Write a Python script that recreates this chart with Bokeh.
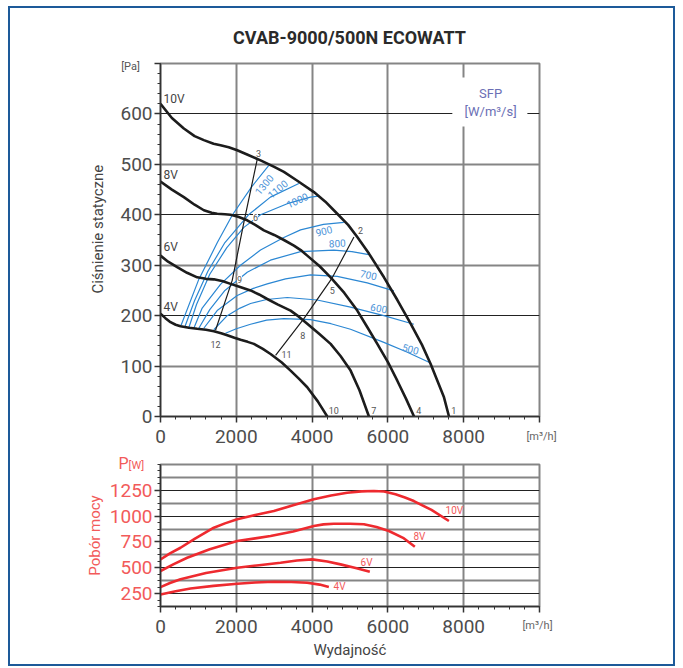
from bokeh.plotting import figure
from bokeh.models import Range1d, FixedTicker, Grid, Label, BoxAnnotation
from bokeh.layouts import column
from bokeh.embed import file_html
from bokeh.resources import INLINE

FONT = "Roboto"

# ---------------- data: static pressure curves [m3/h] -> [Pa] ----------------
Q_10V = [0, 300, 616, 900, 1144, 1400, 1584, 1800, 2024, 2300, 2640, 3000, 3256, 3600, 4048, 4350,
         4664, 4950, 5192, 5500, 5896, 6250, 6600, 6900, 7128, 7300, 7480, 7612]
P_10V = [620, 592, 571, 556, 548, 541, 538, 534, 528, 519, 508, 495, 485, 468, 445, 426,
         402, 380, 356, 323, 276, 231, 184, 142, 104, 72, 38, 0]
Q_8V = [0, 300, 616, 900, 1144, 1350, 1496, 1700, 1848, 2050, 2288, 2500, 2728, 3000, 3256, 3520,
        3700, 3872, 4200, 4488, 4850, 5192, 5450, 5720, 6000, 6248, 6480, 6690]
P_8V = [466, 450, 435, 420, 409, 404, 402, 401, 400, 396, 389, 380, 369, 360, 350, 339,
        330, 319, 298, 276, 245, 210, 178, 144, 108, 71, 35, 0]
Q_6V = [0, 200, 440, 700, 968, 1200, 1408, 1650, 1848, 2100, 2376, 2600, 2816, 3100, 3432, 3650,
        3872, 4200, 4488, 4750, 5016, 5250, 5500]
P_6V = [319, 307, 296, 285, 276, 273, 272, 268, 263, 257, 250, 242, 233, 222, 210, 198,
        184, 163, 144, 120, 91, 52, 0]
Q_4V = [0, 130, 264, 400, 528, 750, 968, 1200, 1408, 1600, 1760, 1950, 2112, 2300, 2464, 2700,
        2904, 3200, 3432, 3650, 3872, 4150, 4400]
P_4V = [204, 195, 187, 182, 179, 176, 174, 172, 169, 165, 161, 156, 152, 148, 144, 134,
        124, 107, 91, 75, 58, 30, 0]

# system lines
SYS_A_Q = [1452, 1892, 2200, 2552]
SYS_A_P = [171, 270, 385, 510]
SYS_B_Q = [3036, 3783, 4531, 5104]
SYS_B_P = [121, 194, 275, 356]

# SFP iso-curves [W/m3/s]
SFP_1300_Q = [528, 1000, 1500, 1900, 2400, 2858]
SFP_1300_P = [178, 270, 345, 400, 455, 498]
SFP_1100_Q = [633, 900, 1250, 1700, 2322, 2900, 3650]
SFP_1100_P = [176, 230, 288, 345, 400, 435, 462]
SFP_1000_Q = [747, 950, 1300, 1750, 2200, 2639, 3343, 3959, 4170]
SFP_1000_P = [176, 222, 282, 335, 375, 400, 422, 435, 437]
SFP_900_Q = [879, 1100, 1583, 2111, 2639, 3254, 3695, 4300, 4838]
SFP_900_P = [175, 215, 262, 300, 330, 355, 370, 381, 385]
SFP_800_Q = [1011, 1300, 1700, 2288, 2900, 3695, 4574, 5050, 5497]
SFP_800_P = [175, 212, 250, 286, 310, 327, 330, 327, 321]
SFP_700_Q = [1143, 1496, 2024, 2450, 2816, 3300, 3959, 4663, 5455, 6157]
SFP_700_P = [175, 210, 240, 254, 263, 273, 281, 278, 265, 249]
SFP_600_Q = [1407, 1760, 2100, 2375, 2800, 3344, 4135, 5014, 5893, 6685]
SFP_600_P = [172, 200, 215, 224, 232, 236, 231, 217, 200, 183]
SFP_500_Q = [1715, 2000, 2375, 2800, 3254, 3959, 4500, 5014, 5893, 6500, 7126]
SFP_500_P = [165, 174, 183, 191, 194, 192, 184, 173, 147, 128, 106]

# ---------------- data: power consumption [m3/h] -> [W] ----------------
WQ_10V = [0, 250, 528, 900, 1407, 1700, 2024, 2500, 2990, 3500, 4046, 4500, 4926, 5300, 5630,
          5900, 6200, 6450, 6685, 7150, 7610]
W_10V = [581, 640, 694, 780, 888, 930, 969, 1010, 1049, 1105, 1163, 1200, 1227, 1240, 1243,
         1238, 1211, 1180, 1146, 1060, 953]
WQ_8V = [0, 350, 704, 1300, 2024, 2500, 2903, 3500, 4046, 4300, 4574, 5000, 5366, 5700, 6026, 6400, 6711]
W_8V = [468, 535, 597, 680, 759, 785, 807, 852, 904, 920, 927, 927, 921, 895, 856, 790, 703]
WQ_6V = [0, 250, 528, 1200, 2024, 2600, 3167, 3600, 4002, 4400, 4750, 5150, 5523]
W_6V = [313, 352, 388, 450, 500, 525, 548, 570, 581, 560, 533, 498, 461]
WQ_4V = [0, 400, 792, 1400, 2024, 2500, 2990, 3450, 3870, 4200, 4442]
W_4V = [242, 272, 300, 325, 345, 357, 364, 362, 355, 337, 313]

X_TICKS = [0, 2000, 4000, 6000, 8000, 10000]
P_TICKS = [0, 100, 200, 300, 400, 500, 600, 700]
W_TICKS = [250, 500, 750, 1000, 1250]

AXIS_TXT = "#4d4d4d"
RED = "#ee2a2f"
RED_TXT = "#f25a5a"
BLUE = "#2b87d3"
BLUE_TXT = "#4c93d8"
BLACK = "#1c1c1c"
GREY = "#858585"


def lab(p, x, y, text, size, color, align="center", baseline="middle", angle=0, bg=None, bold=False):
    kw = dict(x=x, y=y, text=text, text_font=FONT, text_font_size=f"{size}px",
              text_color=color, text_align=align, text_baseline=baseline,
              angle=angle, angle_units="deg",
              text_font_style="bold" if bold else "normal")
    if bg:
        kw["background_fill_color"] = bg
    p.add_layout(Label(**kw))


def style_axes(p):
    for ax in (p.xaxis[0], p.yaxis[0]):
        ax.axis_line_color = "#333333"
        ax.axis_line_width = 1.5
        ax.major_tick_line_color = "#333333"
        ax.major_tick_line_width = 1.5
        ax.minor_tick_line_color = "#333333"
        ax.major_tick_in = 0
        ax.major_tick_out = 6
        ax.minor_tick_in = 0
        ax.minor_tick_out = 3
        ax.major_label_text_font = FONT
        ax.major_label_text_font_size = "19px"
        ax.major_label_text_color = AXIS_TXT
        ax.axis_label_text_font = FONT
        ax.axis_label_text_font_style = "normal"
    p.xaxis[0].major_label_standoff = 7
    p.yaxis[0].major_label_standoff = 2
    p.outline_line_color = GREY
    p.outline_line_width = 2
    p.background_fill_color = "white"
    p.border_fill_color = "white"


# ================= top chart =================
top = figure(width=663, height=446, x_range=Range1d(0, 10000), y_range=Range1d(0, 700),
             output_backend="svg", toolbar_location=None, title=None,
             min_border_left=150, min_border_right=134, min_border_top=55, min_border_bottom=38)
style_axes(top)
top.xaxis[0].ticker = FixedTicker(ticks=X_TICKS, minor_ticks=list(range(0, 10001, 400)))
top.xaxis[0].major_label_overrides = {10000: ""}
top.yaxis[0].ticker = FixedTicker(ticks=P_TICKS, minor_ticks=list(range(0, 701, 20)))
top.yaxis[0].major_label_overrides = {700: ""}
top.xgrid[0].ticker = FixedTicker(ticks=[2000, 4000, 6000, 8000])
top.xgrid[0].grid_line_color = GREY
top.xgrid[0].grid_line_width = 2
top.ygrid[0].ticker = FixedTicker(ticks=[100, 300, 500])
top.ygrid[0].grid_line_color = GREY
top.ygrid[0].grid_line_width = 2
top.add_layout(Grid(dimension=1, ticker=FixedTicker(ticks=[200, 400, 600]),
                    grid_line_color="#222222", grid_line_width=1))

top.add_layout(BoxAnnotation(left=7700, right=9680, bottom=575, top=672,
                             fill_color="white", fill_alpha=1, line_alpha=0))
lab(top, 8709, 641, "SFP", 13, "#6b6fb5")
lab(top, 8709, 604, "[W/m³/s]", 13, "#6b6fb5")

for q, pv in [(SFP_1300_Q, SFP_1300_P), (SFP_1100_Q, SFP_1100_P), (SFP_1000_Q, SFP_1000_P),
              (SFP_900_Q, SFP_900_P), (SFP_800_Q, SFP_800_P), (SFP_700_Q, SFP_700_P),
              (SFP_600_Q, SFP_600_P), (SFP_500_Q, SFP_500_P)]:
    top.line(q, pv, line_color=BLUE, line_width=1.2)

top.line(SYS_A_Q, SYS_A_P, line_color=BLACK, line_width=1.2)
top.line(SYS_B_Q, SYS_B_P, line_color=BLACK, line_width=1.2)

for q, pv in [(Q_10V, P_10V), (Q_8V, P_8V), (Q_6V, P_6V), (Q_4V, P_4V)]:
    top.line(q, pv, line_color=BLACK, line_width=2.6)

for x, y, t, a in [(2731, 460, "1300", 50), (3088, 451, "1100", 40), (3607, 429, "1000", 25),
                   (4310, 368, "900", 14), (4663, 344, "800", 3), (5489, 281, "700", -12),
                   (5761, 215, "600", -10), (6598, 134, "500", -15)]:
    lab(top, x, y, t, 10, BLUE_TXT, angle=a)

for x, y, t, bg in [(2586, 522, "3", None), (2507, 395, "6", "white"), (2085, 272, "9", "white"),
                    (1451, 143, "12", None), (5278, 369, "2", None), (4531, 250, "5", None),
                    (3755, 161, "8", None), (3325, 123, "11", None), (7740, 12, "1", None),
                    (6817, 12, "4", None), (5629, 12, "7", None), (4573, 12, "10", None)]:
    lab(top, x, y, t, 9, "#555555", bg=bg)

for y, t in [(630, "10V"), (478, "8V"), (337, "6V"), (218, "4V")]:
    lab(top, 79, y, t, 12, "#444444", align="left")

# ================= lower chart =================
low = figure(width=663, height=210, x_range=Range1d(0, 10000), y_range=Range1d(125, 1500),
             output_backend="svg", toolbar_location=None, title=None,
             min_border_left=150, min_border_right=134, min_border_top=10, min_border_bottom=58)
style_axes(low)
low.xaxis[0].ticker = FixedTicker(ticks=X_TICKS, minor_ticks=list(range(0, 10001, 400)))
low.xaxis[0].major_label_overrides = {10000: ""}
low.xaxis[0].axis_label = "Wydajność"
low.xaxis[0].axis_label_text_font_size = "15px"
low.xaxis[0].axis_label_text_color = "#444444"
low.xaxis[0].axis_label_standoff = 5
low.yaxis[0].ticker = FixedTicker(ticks=W_TICKS, minor_ticks=[125 + 62.5 * i for i in range(23)])
low.yaxis[0].major_label_text_color = RED_TXT
low.yaxis[0].axis_label = "Pobór mocy"
low.yaxis[0].axis_label_text_font_size = "15px"
low.yaxis[0].axis_label_text_color = RED_TXT
low.yaxis[0].axis_label_standoff = 3
low.xgrid[0].ticker = FixedTicker(ticks=[2000, 4000, 6000, 8000])
low.xgrid[0].grid_line_color = GREY
low.xgrid[0].grid_line_width = 2
low.ygrid[0].ticker = FixedTicker(ticks=[375, 625, 875, 1125, 1375])
low.ygrid[0].grid_line_color = GREY
low.ygrid[0].grid_line_width = 2
low.add_layout(Grid(dimension=1, ticker=FixedTicker(ticks=W_TICKS),
                    grid_line_color="#222222", grid_line_width=1))

for q, w in [(WQ_10V, W_10V), (WQ_8V, W_8V), (WQ_6V, W_6V), (WQ_4V, W_4V)]:
    low.line(q, w, line_color=RED, line_width=2.6)

for x, y, t in [(7521, 1059, "10V"), (6675, 807, "8V"), (5278, 555, "6V"), (4565, 318, "4V")]:
    lab(low, x, y, t, 10, RED_TXT, align="left")

# ================= transparent text layer (pixel coordinates of the panel) =================
ov = figure(width=663, height=660, x_range=Range1d(0, 663), y_range=Range1d(660, 0),
            x_axis_type=None, y_axis_type=None, output_backend="svg", toolbar_location=None,
            title=None, min_border=0,
            styles={"position": "absolute", "top": "0px", "left": "0px", "pointer-events": "none"})
try:
    ov.frame_align = False
except Exception:
    pass
ov.grid.visible = False
ov.outline_line_color = None
ov.background_fill_alpha = 0
ov.border_fill_alpha = 0
lab(ov, 339, 29, "CVAB-9000/500N ECOWATT", 18, "#2a2a2a", bold=True)
lab(ov, 120, 58, "[Pa]", 11, "#555555")
lab(ov, 87, 222, "Ciśnienie statyczne", 15, "#444444", angle=90)
lab(ov, 531, 431, "[m³/h]", 11, "#666666")
lab(ov, 108, 458, "P", 16, RED_TXT, align="left")
lab(ov, 118, 460, "[W]", 11, RED_TXT, align="left")
lab(ov, 527, 621, "[m³/h]", 11, "#666666")

layout = column(top, low, ov, styles={"border": "2px solid #1d5a99", "margin-left": "8px",
                                      "margin-top": "6px", "position": "relative"})
open("out.html", "w").write(file_html(layout, INLINE))
